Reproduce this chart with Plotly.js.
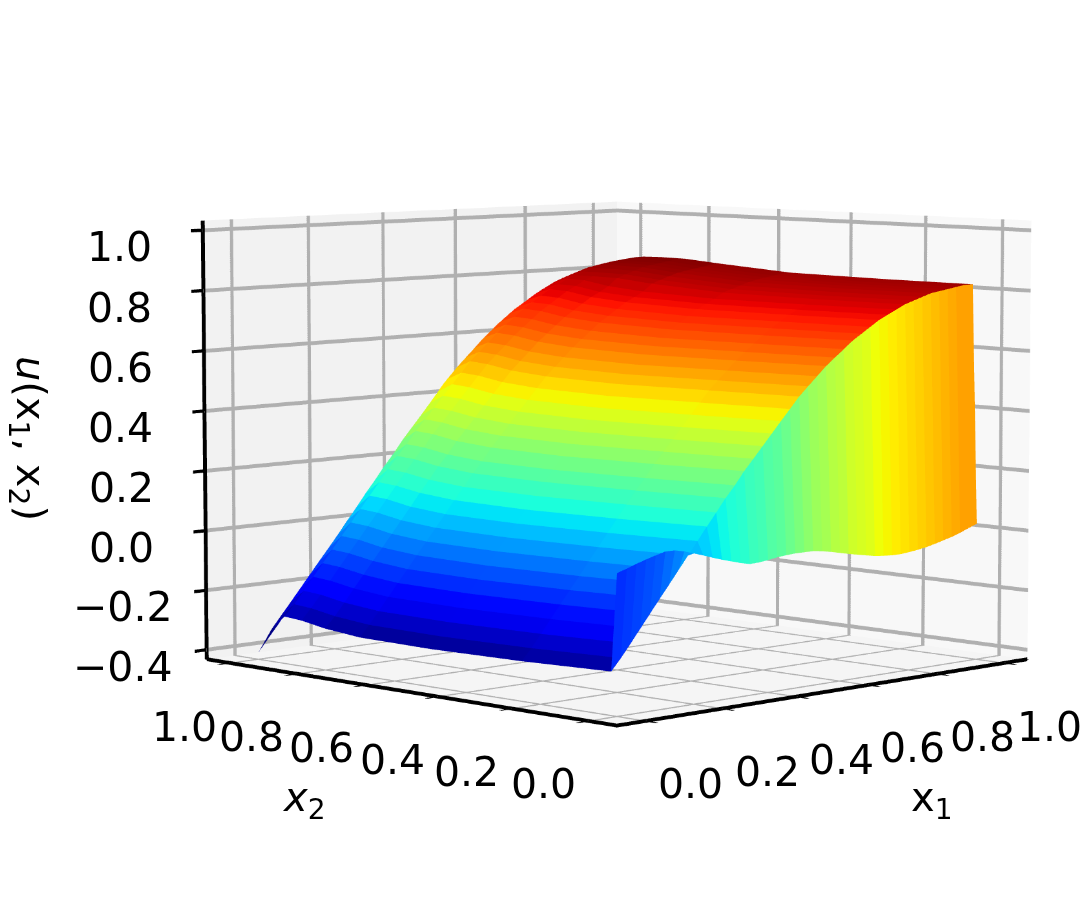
<!DOCTYPE html>
<html><head><meta charset="utf-8">
<script src="https://cdn.plot.ly/plotly-3.0.1.min.js"></script>
<style>html,body{margin:0;padding:0;background:#fff;width:1081px;height:906px;overflow:hidden}
#stage{position:absolute;left:0;top:0;width:1081px;height:906px;overflow:hidden}
#g{position:absolute}</style></head><body><div id="stage"><div id="g"></div></div>
<script>
const x2Values=[0,.015,.25,.5,.7,.8,.87,.92,.96,1];
const x1Values=[0,.025,.05,.075,.1,.125,.15,.175,.2,.225,.25,.275,.3,.325,.35,.375,.4,.425,.45,.475,.5,.525,.55,.575,.6,.625,.65,.675,.7,.725,.75,.775,.8,.825,.85,.875,.9,.925,.95,.975,1];
const uTable=[
[.012,-.295,-.305,-.31,-.307,-.295,-.28,-.275,-.325,-.41],
[.022,-.258,-.268,-.273,-.27,-.258,-.243,-.238,-.283,-.368],
[.033,-.217,-.227,-.232,-.229,-.217,-.202,-.197,-.242,-.327],
[.043,-.175,-.184,-.189,-.186,-.174,-.159,-.154,-.2,-.283],
[.052,-.133,-.142,-.147,-.144,-.132,-.117,-.112,-.158,-.238],
[.06,-.091,-.1,-.105,-.102,-.09,-.075,-.07,-.116,-.196],
[.06,-.05,-.059,-.064,-.06,-.049,-.033,-.028,-.075,-.155],
[.053,-.008,-.016,-.021,-.018,-.007,.009,.014,-.033,-.108],
[.043,.034,.026,.021,.024,.035,.051,.056,.011,-.066],
[.033,.076,.068,.063,.066,.077,.093,.098,.053,-.024],
[.022,.118,.11,.105,.109,.12,.135,.14,.098,.018],
[.012,.159,.152,.147,.15,.161,.176,.181,.139,.064],
[.003,.201,.194,.189,.192,.203,.218,.223,.183,.108],
[-.006,.238,.231,.226,.229,.24,.255,.26,.223,.148],
[-.013,.28,.273,.268,.272,.282,.297,.302,.267,.19],
[-.012,.316,.31,.305,.309,.319,.334,.339,.306,.231],
[-.008,.353,.347,.342,.346,.356,.371,.376,.345,.273],
[-.003,.39,.384,.379,.384,.394,.409,.414,.385,.315],
[0,.427,.421,.416,.421,.431,.446,.451,.424,.357],
[.002,.463,.458,.453,.458,.468,.483,.488,.463,.398],
[.002,.5,.495,.49,.495,.505,.52,.525,.5,.44],
[.002,.53,.525,.52,.525,.535,.55,.555,.532,.47],
[-.002,.56,.555,.55,.555,.565,.58,.585,.563,.505],
[-.008,.59,.585,.581,.586,.596,.611,.616,.595,.54],
[-.015,.615,.611,.607,.612,.622,.637,.642,.622,.57],
[-.022,.64,.636,.632,.638,.648,.663,.667,.648,.6],
[-.028,.665,.661,.658,.664,.674,.689,.693,.675,.63],
[-.034,.685,.682,.679,.685,.695,.71,.713,.696,.655],
[-.04,.705,.702,.699,.706,.716,.731,.734,.717,.68],
[-.043,.725,.722,.72,.727,.737,.752,.755,.738,.7],
[-.045,.74,.737,.736,.743,.753,.768,.77,.754,.72],
[-.045,.755,.752,.751,.76,.771,.786,.788,.772,.74],
[-.042,.77,.768,.77,.785,.797,.798,.798,.785,.755],
[-.038,.78,.778,.78,.796,.808,.809,.809,.796,.77],
[-.033,.79,.788,.79,.807,.819,.82,.82,.807,.78],
[-.026,.8,.798,.8,.817,.829,.83,.83,.817,.79],
[-.018,.805,.804,.807,.823,.835,.836,.835,.823,.795],
[-.01,.81,.809,.812,.828,.84,.841,.84,.829,.8],
[0,.815,.814,.817,.833,.845,.846,.844,.834,.805],
[.012,.82,.819,.822,.838,.85,.851,.849,.838,.81],
[.023,.82,.82,.823,.84,.85,.851,.849,.832,.8]];
const wallShade=[.17,.18,.19,.2,.21,.23,.25,.28,.31,.33,.35,.37,.39,.4,.42,.43,.45,.46,.48,.5,.52,.54,.55,.57,.58,.6,.61,.62,.64,.65,.66,.67,.68,.69,.7,.71,.72,.73,.74,.74];
const tickVals=[0,.2,.4,.6,.8,1];
const zTickVals=[-.4,-.2,0,.2,.4,.6,.8,1];
const uMin=-.32,uMax=.85;

function jet(t){t=Math.max(0,Math.min(1,t));
 const seg=(p)=>{for(let i=1;i<p.length;i++){if(t<=p[i][0]){const a=p[i-1],b=p[i];return a[1]+(b[1]-a[1])*(t-a[0])/(b[0]-a[0]);}}return p[p.length-1][1];};
 const r=seg([[0,0],[.35,0],[.66,1],[.89,1],[1,.5]]),g=seg([[0,0],[.125,0],[.375,1],[.64,1],[.91,0],[1,0]]),b=seg([[0,.5],[.11,1],[.34,1],[.65,0],[1,0]]);
 return `rgb(${Math.round(r*255)},${Math.round(g*255)},${Math.round(b*255)})`;}

const X=[],Y=[],Z=[],I=[],J=[],K=[],C=[];
const nr=x1Values.length,nc=x2Values.length;
for(let r=0;r<nr;r++)for(let c=0;c<nc;c++){X.push(x1Values[r]);Y.push(x2Values[c]);Z.push(uTable[r][c]);}
for(let r=0;r<nr-1;r++)for(let c=0;c<nc-1;c++){
 const a=r*nc+c,b=a+1,d=a+nc,e=d+1;
 const mean=(uTable[r][c]+uTable[r][c+1]+uTable[r+1][c]+uTable[r+1][c+1])/4;
 const col=c===0?jet(wallShade[r]):jet((mean-uMin)/(uMax-uMin));
 I.push(a,a);J.push(b,e);K.push(e,d);C.push(col,col);
}
const H=3720,D=H/483,E=Math.asin(.76/D);
const cx=617,cy=441;
const el=document.getElementById('g');
el.style.width=H+'px';el.style.height=H+'px';el.style.left=(cx-H/2)+'px';el.style.top=(cy-H/2)+'px';
const ax=(vals)=>({range:[-.072,1.072],tickmode:'array',tickvals:vals,showticklabels:false,title:{text:''},
 showgrid:true,gridcolor:'#b0b0b0',gridwidth:6,showline:true,linecolor:'#000',linewidth:6,ticks:'outside',ticklen:10,tickwidth:5,tickcolor:'#000',
 showbackground:true,backgroundcolor:'#f5f5f5',showspikes:false,zeroline:false,mirror:false,autorange:false});
const zax=ax(zTickVals);zax.range=[-.432,1.032];
const xax=ax(tickVals);xax.backgroundcolor='#f8f8f8';
const yax=ax(tickVals);yax.backgroundcolor='#f2f2f2';
const tf={family:'DejaVu Sans',size:41,color:'#000'};
const fmt=v=>v.toFixed(1).replace('-','\u2212');
const note=(x,y,z,text,xshift,yshift,font,extra)=>Object.assign({x,y,z,text,xshift,yshift,showarrow:false,xanchor:'center',yanchor:'middle',font},extra||{});
const ann=[];
tickVals.forEach(v=>ann.push(note(v,-.04,-.4,fmt(v),58,-75,tf)));
tickVals.forEach(v=>ann.push(note(-.04,v,-.4,fmt(v),-58,-75,tf)));
zTickVals.forEach(v=>ann.push(note(-.07,1.07,v,fmt(v),-85,-17,tf)));
const tt={family:'DejaVu Sans',size:40,color:'#000'};
ann.push(note(.5,-.04,-.4,'x<sub>1</sub>',113,-121,tt));
ann.push(note(-.04,.5,-.4,'<i>x</i><sub>2</sub>',-111,-121,tt));
ann.push(note(-.07,1.07,.35,'<i>u</i>(x<sub>1</sub>, x<sub>2</sub>)',-178,-12,tt,{textangle:90}));
Plotly.newPlot(el,[{type:'mesh3d',x:X,y:Y,z:Z,i:I,j:J,k:K,facecolor:C,flatshading:true,hoverinfo:'skip',showscale:false,
 lighting:{ambient:1,diffuse:0,specular:0,fresnel:0,roughness:1},lightposition:{x:0,y:0,z:1e5}}],
 {width:H,height:H,margin:{l:0,r:0,t:0,b:0},paper_bgcolor:'#fff',showlegend:false,
 scene:{domain:{x:[0,1],y:[0,1]},xaxis:xax,yaxis:yax,zaxis:zax,annotations:ann,aspectmode:'manual',aspectratio:{x:1,y:1,z:.756},
 camera:{projection:{type:'perspective'},center:{x:0,y:0,z:0},up:{x:0,y:0,z:1},eye:{x:-D*Math.cos(E)/Math.SQRT2,y:-D*Math.cos(E)/Math.SQRT2,z:D*Math.sin(E)}}}},
 {displayModeBar:false});
</script></body></html>
